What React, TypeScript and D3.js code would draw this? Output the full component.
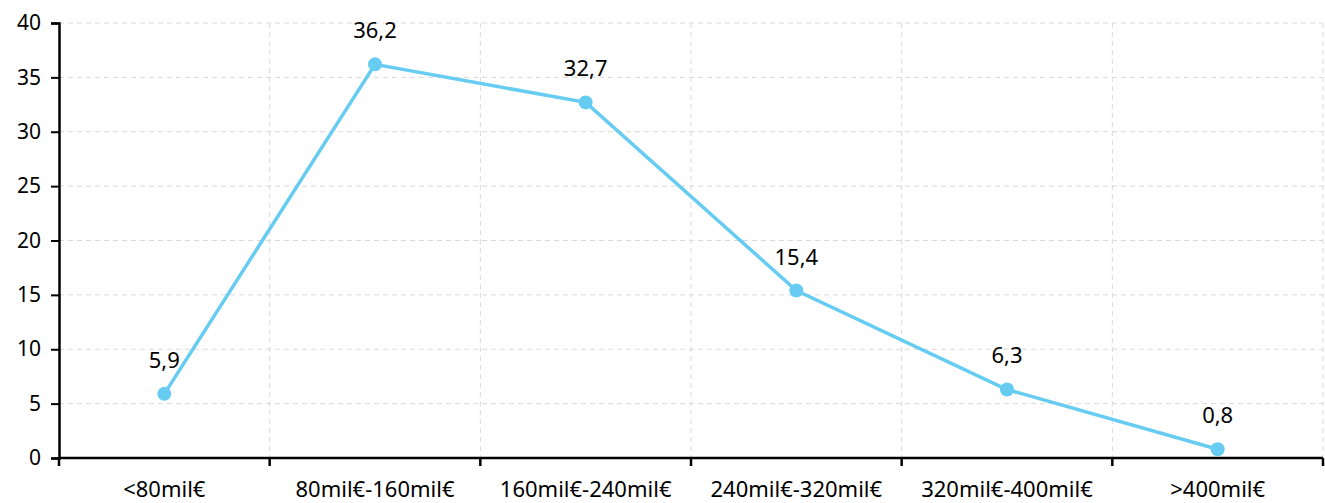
import React, { FC, useEffect, useRef } from "react";
import * as d3 from "d3";

const categories = ["<80mil€", "80mil€-160mil€", "160mil€-240mil€", "240mil€-320mil€", "320mil€-400mil€", ">400mil€"];
const values = [5.9, 36.2, 32.7, 15.4, 6.3, 0.8];
const yTicks = [0, 5, 10, 15, 20, 25, 30, 35, 40];

const App: FC = () => {
    const svgRef = useRef<SVGSVGElement>(null);

    useEffect(() => {
        if (!svgRef.current) return;
        d3.select(svgRef.current).selectAll("*").remove();

        const W = 1325, H = 503;
        const margin = { top: 23, right: 2, bottom: 45, left: 59 };
        const width = W - margin.left - margin.right;
        const height = H - margin.top - margin.bottom;
        const font = "'Noto Sans', sans-serif";

        const svg = d3.select(svgRef.current)
            .append("g")
            .attr("transform", `translate(${margin.left},${margin.top})`);

        const x = d3.scaleBand().domain(categories).range([0, width]).padding(0);
        const y = d3.scaleLinear().domain([0, 40]).range([height, 0]);

        // horizontal grid
        svg.append("g").selectAll("line")
            .data(yTicks.filter(t => t > 0))
            .enter().append("line")
            .attr("x1", 0).attr("x2", width)
            .attr("y1", d => y(d)).attr("y2", d => y(d))
            .attr("stroke", "#d9d9d9").attr("stroke-width", 1)
            .attr("stroke-dasharray", "5,4");

        // vertical grid at band boundaries
        svg.append("g").selectAll("line")
            .data(categories)
            .enter().append("line")
            .attr("x1", d => (x(d) || 0) + x.bandwidth())
            .attr("x2", d => (x(d) || 0) + x.bandwidth())
            .attr("y1", 0).attr("y2", height)
            .attr("stroke", "#d9d9d9").attr("stroke-width", 1)
            .attr("stroke-dasharray", "5,4");

        // y axis
        const yAxis = svg.append("g")
            .call(d3.axisLeft(y).tickValues(yTicks).tickSize(8).tickPadding(10));
        yAxis.select(".domain").attr("stroke", "#000").attr("stroke-width", 2.5);
        yAxis.selectAll(".tick line").attr("stroke", "#000").attr("stroke-width", 2);
        yAxis.selectAll("text")
            .style("font-family", font).style("font-size", "21px").attr("fill", "#000");

        // x axis with ticks at band boundaries
        const xAxis = svg.append("g").attr("transform", `translate(0,${height})`);
        xAxis.append("line")
            .attr("x1", 0).attr("x2", width)
            .attr("stroke", "#000").attr("stroke-width", 2.5);
        xAxis.selectAll(".btick")
            .data([0, ...categories.map(c => (x(c) || 0) + x.bandwidth())])
            .enter().append("line")
            .attr("class", "btick")
            .attr("x1", d => d).attr("x2", d => d)
            .attr("y1", 0).attr("y2", 8)
            .attr("stroke", "#000").attr("stroke-width", 2.5);
        xAxis.selectAll(".xlabel")
            .data(categories)
            .enter().append("text")
            .attr("class", "xlabel")
            .attr("x", d => (x(d) || 0) + x.bandwidth() / 2)
            .attr("y", 39)
            .attr("text-anchor", "middle")
            .style("font-family", font).style("font-size", "22px")
            .attr("fill", "#000")
            .text(d => d);

        const cx = (i: number) => (x(categories[i]) || 0) + x.bandwidth() / 2;

        const line = d3.line<number>()
            .x((d, i) => cx(i))
            .y(d => y(d));

        svg.append("path")
            .datum(values)
            .attr("d", line)
            .attr("fill", "none")
            .attr("stroke", "#66ccf2")
            .attr("stroke-width", 3.5);

        svg.selectAll(".dot")
            .data(values)
            .enter().append("circle")
            .attr("class", "dot")
            .attr("cx", (d, i) => cx(i))
            .attr("cy", d => y(d))
            .attr("r", 7)
            .attr("fill", "#66ccf2");

        svg.selectAll(".vlabel")
            .data(values)
            .enter().append("text")
            .attr("class", "vlabel")
            .attr("x", (d, i) => cx(i))
            .attr("y", d => y(d) - 26)
            .attr("text-anchor", "middle")
            .style("font-family", font).style("font-size", "22px")
            .attr("fill", "#000")
            .text(d => d.toFixed(1).replace(".", ","));
    }, []);

    return <svg ref={svgRef} width={1325} height={503} style={{ display: "block", position: "absolute", left: 0, top: 0 }} />;
};

export default App;
